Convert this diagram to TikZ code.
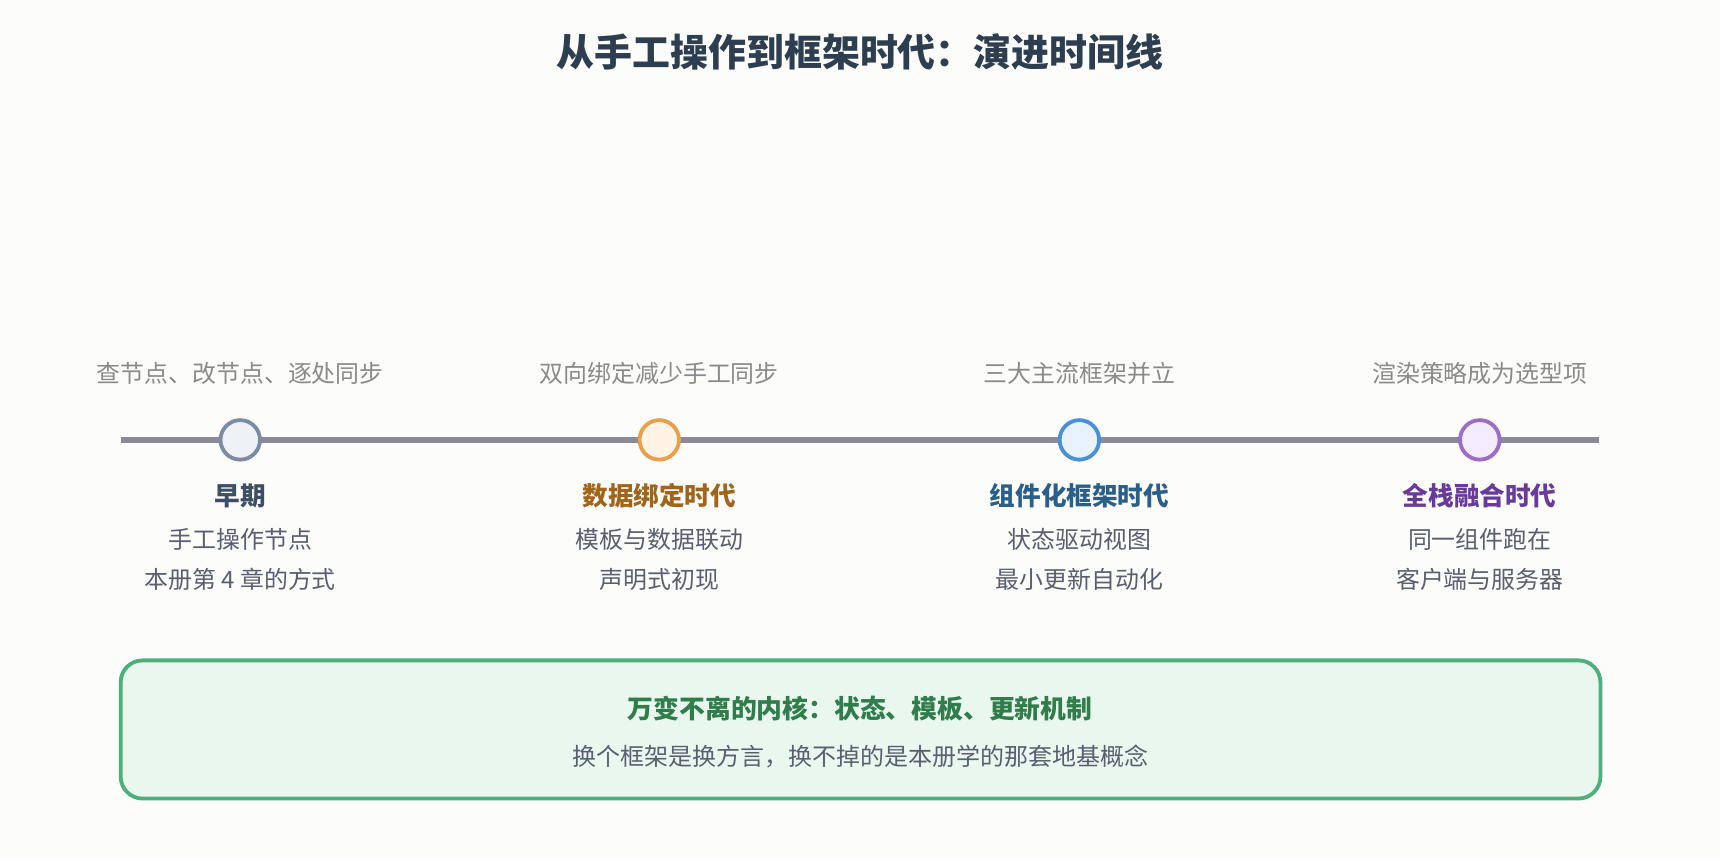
\documentclass[tikz,border=0pt]{standalone}
\usepackage{fontspec}
\setmainfont{Noto Sans CJK SC}
\usetikzlibrary{positioning}
\definecolor{paper}{HTML}{FCFCFA}
\definecolor{ink}{HTML}{2C3E50}
\definecolor{rail}{HTML}{8A8A9A}
\definecolor{note}{HTML}{8A8A8A}
\definecolor{body}{HTML}{5A5E70}
\definecolor{earlyln}{HTML}{7A8BA3}\definecolor{earlybg}{HTML}{EEF2F7}\definecolor{earlytx}{HTML}{3D4F66}
\definecolor{bindln}{HTML}{E9A04B}\definecolor{bindbg}{HTML}{FFF3E6}\definecolor{bindtx}{HTML}{A0651A}
\definecolor{compln}{HTML}{4A90D9}\definecolor{compbg}{HTML}{E8F2FD}\definecolor{comptx}{HTML}{2A5F8A}
\definecolor{fullln}{HTML}{9B6CC8}\definecolor{fullbg}{HTML}{F4ECFC}\definecolor{fulltx}{HTML}{6A3A9A}
\definecolor{coreln}{HTML}{4DAF7C}\definecolor{corebg}{HTML}{EAF7EE}\definecolor{coretx}{HTML}{2E7D4A}
\tikzset{
  era_dot/.style = {circle, inner sep=0pt, minimum size=39.5pt, line width=3.8pt},% point sur l'axe
  era_note/.style = {font=\fontsize{23.9pt}{28pt}\selectfont, text=note},% texte au-dessus
  era_name/.style = {font=\fontsize{25.6pt}{30pt}\selectfont\bfseries},% nom de l'epoque
  era_text/.style = {font=\fontsize{23.9pt}{39.5pt}\selectfont, text=body, align=center}% description
}
\begin{document}
\begin{tikzpicture}[x=1.09694pt, y=-1.09694pt]
\fill[paper] (0,0) rectangle (1568,784);
\useasboundingbox (0,0) rectangle (1568,784);

\node[font=\fontsize{37.9pt}{42pt}\selectfont\bfseries, text=ink] (title) at (784,47)
  {从手工操作到框架时代：演进时间线};

% axe du temps
\coordinate (rail_l) at (110,401);
\coordinate (rail_r) at (1458,401);
\draw[rail, line width=5.5pt] (rail_l) -- (rail_r);

\node[era_dot, draw=earlyln, fill=earlybg] (early) at (219,401) {};
\node[era_dot, draw=bindln, fill=bindbg] (bind) at (601,401) {};
\node[era_dot, draw=compln, fill=compbg] (comp) at (984,401) {};
\node[era_dot, draw=fullln, fill=fullbg] (full) at (1349,401) {};

\node[era_note] (early_note) at (219,340) {查节点、改节点、逐处同步};
\node[era_note] (bind_note) at (601,340) {双向绑定减少手工同步};
\node[era_note] (comp_note) at (984,340) {三大主流框架并立};
\node[era_note] (full_note) at (1349,340) {渲染策略成为选型项};

\node[era_name, text=earlytx] (early_name) at (219,452) {早期};
\node[era_name, text=bindtx] (bind_name) at (601,452) {数据绑定时代};
\node[era_name, text=comptx] (comp_name) at (984,452) {组件化框架时代};
\node[era_name, text=fulltx] (full_name) at (1349,452) {全栈融合时代};

\node[era_text] (early_text) at (219,510) {手工操作节点\\本册第 4 章的方式};
\node[era_text] (bind_text) at (601,510) {模板与数据联动\\声明式初现};
\node[era_text] (comp_text) at (984,510) {状态驱动视图\\最小更新自动化};
\node[era_text] (full_text) at (1349,510) {同一组件跑在\\客户端与服务器};

% encadre du bas
\draw[draw=coreln, fill=corebg, line width=3.8pt, rounded corners=22pt]
  (110,602) rectangle (1459,728);
\node[font=\fontsize{25.8pt}{30pt}\selectfont\bfseries, text=coretx] (core_title) at (784,646)
  {万变不离的内核：状态、模板、更新机制};
\node[font=\fontsize{24pt}{28pt}\selectfont, text=body] (core_text) at (784,690)
  {换个框架是换方言，换不掉的是本册学的那套地基概念};
\end{tikzpicture}
\end{document}
